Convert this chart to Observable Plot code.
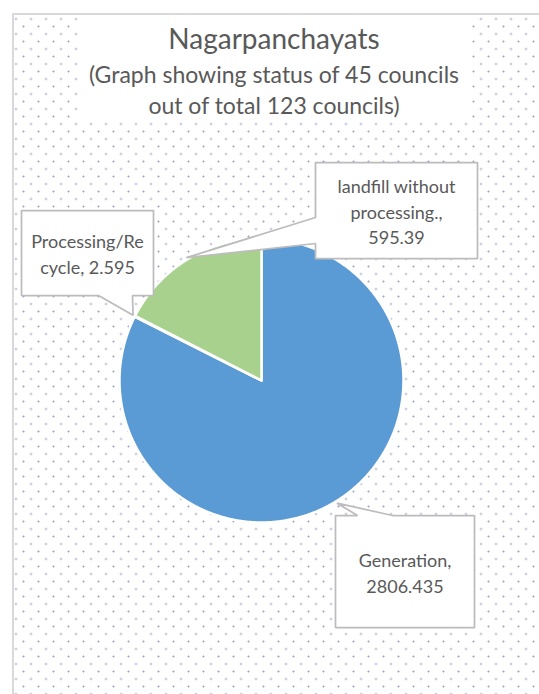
<!DOCTYPE html>
<html>
<head>
<meta charset="utf-8">
<script src="https://cdn.jsdelivr.net/npm/d3@7"></script>
<script src="https://cdn.jsdelivr.net/npm/@observablehq/plot@0.6"></script>
<style>
  html, body { margin: 0; padding: 0; background: #fff; width: 539px; height: 694px; overflow: hidden; }
  #frame {
    position: absolute; left: 12px; top: 13px; width: 620px; height: 720px;
    border-left: 2px solid #d9d9d9; border-top: 2px solid #d9d9d9;
    background-image:
      radial-gradient(circle, #a3a9c9 0.75px, rgba(255,255,255,0) 1.35px),
      radial-gradient(circle, #a3a9c9 0.75px, rgba(255,255,255,0) 1.35px);
    background-size: 15px 15px, 15px 15px;
    background-position: -5.5px -3.5px, 2px 4px;
  }
  #title {
    position: absolute; left: 80px; top: 15px; width: 388px; height: 105px;
    background: #fff; color: #595959; font-family: Lato, sans-serif; text-align: center;
  }
  #title .t1 { position: absolute; left: -30px; right: -30px; top: 6px; font-size: 28px; line-height: 34px; white-space: nowrap; }
  #title .t2 { position: absolute; left: -30px; right: -30px; top: 44px; font-size: 23px; line-height: 31px; white-space: nowrap; }
  #chart { position: absolute; left: 0; top: 120px; }
</style>
</head>
<body>
<div id="frame"></div>
<div id="title"><div class="t1"></div><div class="t2"></div></div>
<div id="chart"></div>
<script>
// ---- data ----
const titleText = "Nagarpanchayats";
const subtitleLines = ["(Graph showing status of 45 councils", "out of total 123 councils)"];
const categories = ["Generation", "Processing/Recycle", "landfill without processing."];
const values = [2806.435, 2.595, 595.39];
const labelLines = [["Generation,", "2806.435"], ["Processing/Re", "cycle, 2.595"], ["landfill without", "processing.,", "595.39"]];
const colors = ["#5B9BD5", "#ED7D31", "#A9D18E"];

// ---- layout (pixels, relative to pie centre) ----
const W = 539, H = 574, TOP = 120;
const CX = 261, CY = 380 - TOP, R = 142;
const callouts = [
  {box: [74, 135, 213, 247], side: "top", base: [96, 131]},          // Generation
  {box: [-240, -170, -108, -85], side: "bottom", base: [-163, -129]}, // Processing
  {box: [54, -218, 216, -122], side: "left", base: [-163, -137]}      // landfill
];

document.querySelector("#title .t1").textContent = titleText;
document.querySelector("#title .t2").innerHTML = subtitleLines.map(s => s.replace(/&/g, "&amp;")).join("<br>");

const rows = categories.map((c, i) => ({category: c, value: values[i], color: colors[i], i}));
const arcs = d3.pie().sort(null).value(d => d.value).startAngle(0).endAngle(2 * Math.PI)(rows);

// slice polygons
const slicePts = [];
arcs.forEach((a, i) => {
  const n = Math.max(2, Math.ceil((a.endAngle - a.startAngle) / (Math.PI / 360)));
  slicePts.push({slice: i, color: colors[i], x: 0, y: 0});
  for (let k = 0; k <= n; k++) {
    const t = a.startAngle + (a.endAngle - a.startAngle) * k / n;
    slicePts.push({slice: i, color: colors[i], x: R * Math.sin(t), y: -R * Math.cos(t)});
  }
  slicePts.push({slice: i, color: colors[i], x: 0, y: 0});
});

// callout shapes
const calloutPts = [];
const labelRows = [];
arcs.forEach((a, i) => {
  const c = callouts[i];
  const mid = (a.startAngle + a.endAngle) / 2;
  const tip = [(R + 2) * Math.sin(mid), -(R + 2) * Math.cos(mid)];
  const [x0, y0, x1, y1] = c.box;
  let poly;
  if (c.side === "top") poly = [[x0, y0], [c.base[0], y0], tip, [c.base[1], y0], [x1, y0], [x1, y1], [x0, y1], [x0, y0]];
  else if (c.side === "bottom") poly = [[x0, y0], [x1, y0], [x1, y1], [c.base[1], y1], tip, [c.base[0], y1], [x0, y1], [x0, y0]];
  else poly = [[x0, y0], [x1, y0], [x1, y1], [x0, y1], [x0, c.base[1]], tip, [x0, c.base[0]], [x0, y0]];
  poly.forEach(([x, y]) => calloutPts.push({id: i, x, y}));
  labelRows.push({x: (x0 + x1) / 2, y: (y0 + y1) / 2, text: labelLines[i].join("\n")});
});

const chart = Plot.plot({
  width: W, height: H, margin: 0,
  style: {background: "transparent", overflow: "visible", fontFamily: "Lato, sans-serif"},
  x: {domain: [-CX, W - CX], range: [0, W], axis: null},
  y: {domain: [-CY, H - CY], range: [0, H], axis: null},
  color: {type: "identity"},
  marks: [
    Plot.line(slicePts, {x: "x", y: "y", z: "slice", fill: "color", stroke: "white", strokeWidth: 2.5, curve: "linear"}),
    Plot.line(calloutPts, {x: "x", y: "y", z: "id", fill: "white", stroke: "#bcbcbc", strokeWidth: 1.75, strokeLinejoin: "miter", curve: "linear"}),
    Plot.text(labelRows, {x: "x", y: "y", text: "text", fill: "#595959", fontSize: 18, lineHeight: 1.43, lineAnchor: "middle", textAnchor: "middle", fontFamily: "Lato"})
  ]
});
document.getElementById("chart").appendChild(chart);
</script>
</body>
</html>
